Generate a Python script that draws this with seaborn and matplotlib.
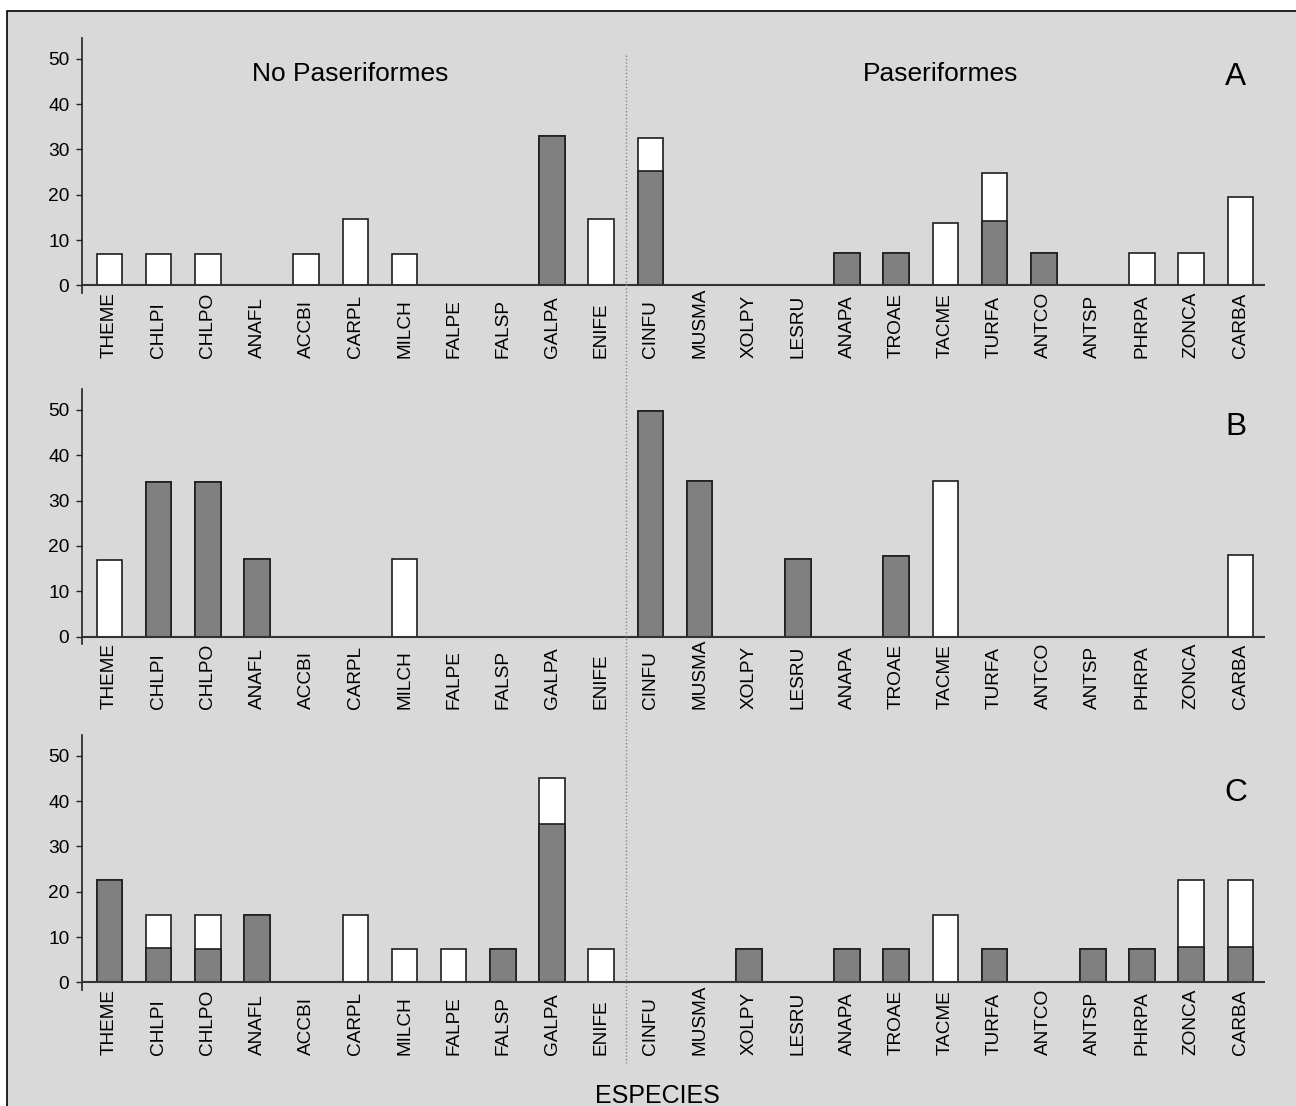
import matplotlib
matplotlib.use("Agg")
import numpy as np
import pandas as pd
import seaborn as sns
import matplotlib.pyplot as plt
from matplotlib.patches import Rectangle
from matplotlib.lines import Line2D
from matplotlib.transforms import blended_transform_factory

species = ["THEME", "CHLPI", "CHLPO", "ANAFL", "ACCBI", "CARPL", "MILCH", "FALPE",
           "FALSP", "GALPA", "ENIFE", "CINFU", "MUSMA", "XOLPY", "LESRU", "ANAPA",
           "TROAE", "TACME", "TURFA", "ANTCO", "ANTSP", "PHRPA", "ZONCA", "CARBA"]

# lower (grey) and upper (white) segments of each stacked bar
gray_a = [0, 0, 0, 0, 0, 0, 0, 0, 0, 33.0, 0, 25.2, 0, 0, 0, 7.1, 7.1, 0, 14.2, 7.1, 0, 0, 0, 0]
white_a = [7.0, 7.0, 7.0, 0, 7.0, 14.7, 7.0, 0, 0, 0, 14.7, 7.4, 0, 0, 0, 0, 0, 13.8, 10.7, 0, 0, 7.1, 7.1, 19.6]

gray_b = [0, 34.0, 34.0, 17.2, 0, 0, 0, 0, 0, 0, 0, 49.8, 34.4, 0, 17.1, 0, 17.7, 0, 0, 0, 0, 0, 0, 0]
white_b = [16.8, 0, 0, 0, 0, 0, 17.2, 0, 0, 0, 0, 0, 0, 0, 0, 0, 0, 34.4, 0, 0, 0, 0, 0, 17.9]

gray_c = [22.5, 7.6, 7.3, 14.85, 0, 0, 0, 0, 7.4, 34.9, 0, 0, 0, 7.4, 0, 7.4, 7.4, 0, 7.4, 0, 7.4, 7.4, 7.9, 7.9]
white_c = [0, 7.25, 7.55, 0, 0, 14.85, 7.4, 7.4, 0, 10.2, 7.4, 0, 0, 0, 0, 0, 0, 14.8, 0, 0, 0, 0, 14.8, 14.8]

panels = [("A", gray_a, white_a), ("B", gray_b, white_b), ("C", gray_c, white_c)]
letter_y = {"A": 44.3, "B": 44.5, "C": 40.0}

sns.set_style("white")
plt.rcParams["font.family"] = ["Liberation Sans", "DejaVu Sans"]
plt.rcParams["text.color"] = "black"
plt.rcParams["xtick.color"] = "black"
plt.rcParams["ytick.color"] = "black"
plt.rcParams["xtick.labelcolor"] = "black"
plt.rcParams["ytick.labelcolor"] = "black"
narrow = ["Liberation Sans Narrow", "Liberation Sans", "DejaVu Sans"]

W, H = 1296, 1106
fig = plt.figure(figsize=(W / 100, H / 100), dpi=100)
fig.patch.set_facecolor("white")
fig.add_artist(Rectangle((7 / W, -0.05), 1.1, 1 - 11 / H + 0.05, transform=fig.transFigure,
                         facecolor="#d9d9d9", edgecolor="black", lw=1.2, zorder=0))

edge = "#1e1e1e"
bottoms = [0.7351, 0.4177, 0.1049]
axes = []
for (name, gray, white), b in zip(panels, bottoms):
    ax = fig.add_axes([82 / W, b, (1265 - 82) / W, 0.2306])
    ax.set_facecolor("none")
    df = pd.DataFrame({"species": species,
                       "gray": gray,
                       "total": np.array(gray) + np.array(white)})
    sns.barplot(data=df, x="species", y="total", order=species, color="white",
                edgecolor=edge, linewidth=1.2, width=0.52, saturation=1, ax=ax)
    sns.barplot(data=df, x="species", y="gray", order=species, color="#808080",
                edgecolor=edge, linewidth=1.2, width=0.52, saturation=1, ax=ax)
    ax.axhline(0, color="#333333", lw=1.5, zorder=5)
    ax.set_xlim(-0.56, 23.5)
    ax.set_ylim(-1.65, 54.6)
    ax.set_xlabel("")
    ax.set_ylabel("")
    ax.set_yticks([0, 10, 20, 30, 40, 50])
    ax.tick_params(axis="y", direction="out", length=4.3, width=1, pad=4.8,
                   labelsize=13.8, left=True, color="#222222", labelcolor="black")
    ax.set_xticks(range(len(species)))
    ax.set_xticklabels(species, rotation=90, va="bottom", ha="center",
                       fontsize=13.7, family=narrow, color="black")
    ax.tick_params(axis="x", length=0, pad=47)
    for s in ["top", "right", "bottom"]:
        ax.spines[s].set_visible(False)
    ax.spines["left"].set_color("#222222")
    ax.spines["left"].set_linewidth(1.2)
    ax.text(22.9, letter_y[name], name, ha="center", va="baseline", fontsize=22.8, color="black")
    axes.append(ax)

axes[0].text(4.9, 45.2, "No Paseriformes", ha="center", va="baseline", fontsize=19, color="black")
axes[0].text(16.9, 45.2, "Paseriformes", ha="center", va="baseline", fontsize=19, color="black")

# dotted divider between the two groups, running through all panels
tr = blended_transform_factory(axes[0].transData, fig.transFigure)
fig.add_artist(Line2D([10.5, 10.5], [1 - 55 / H, 1 - 1063 / H], transform=tr,
                      color="#888888", lw=1, linestyle=(0, (1, 1.5))))

fig.text(657 / W, 1 - 1103 / H, "ESPECIES", ha="center", va="baseline", fontsize=18, color="black")

fig.savefig("out.png", dpi=100)
